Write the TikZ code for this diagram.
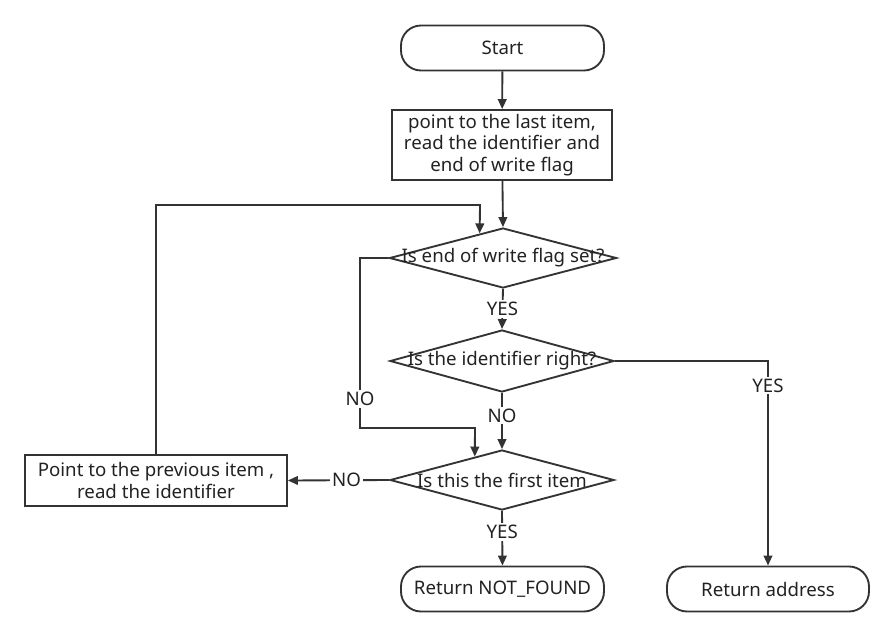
\documentclass[tikz,border=0pt]{standalone}
\usepackage{fontspec}
\setmainfont{Noto Sans}
\usetikzlibrary{shapes.geometric,arrows.meta,calc}
\definecolor{lc}{HTML}{333333}
\definecolor{tc}{HTML}{222222}
\begin{document}
\begin{tikzpicture}[x=0.75pt,y=-0.75pt,
  base/.style={draw=lc, line width=1.4pt, font=\fontsize{14}{16.2}\selectfont, text=tc, inner sep=0pt, align=center},
  term/.style={base, rounded corners=15pt, minimum width=152.25pt, minimum height=33.75pt},
  proc/.style={base, rectangle},
  dia/.style={base, diamond, minimum width=169pt, minimum height=45pt},
  txt/.style={font=\fontsize{14}{16.2}\selectfont, text=tc, inner sep=0pt},
  lbl/.style={font=\fontsize{14}{16.2}\selectfont, text=tc, fill=white, inner sep=1.5pt},
  arr/.style={draw=lc, line width=1.4pt, -{Triangle[length=7.5pt,width=6.5pt]}},
  ln/.style={draw=lc, line width=1.4pt}]
\useasboundingbox (0,0) rectangle (894,640);
\node[term] (start) at (502.5,48) {Start};
\node[proc, minimum width=165pt, minimum height=52.5pt] (b1) at (502,145) {point to the last item,\\ read the identifier and\\ end of write flag};
\node[dia, minimum width=170.25pt] (d1) at (503,258) {};
\node[txt] (t1) at (d1) {Is end of write flag set?};
\node[dia, minimum width=168pt, minimum height=46.5pt] (d2) at (502,361) {};
\node[txt] (t2) at (d2) {Is the identifier right?};
\node[dia, minimum width=168pt] (d3) at (502,480) {};
\node[txt] (t3) at (d3) {Is this the first item};
\node[term] (nf) at (502.5,589) {Return NOT\_FOUND};
\node[term, minimum width=151.5pt] (ra) at (768,589) {Return address};
\node[proc, minimum width=196.5pt, minimum height=38.25pt, font=\fontsize{14}{17}\selectfont] (lb) at (156,480.5) {Point to the previous item ,\\ read the identifier};
\coordinate (c1) at (360,258);
\coordinate (c2) at (360,428);
\coordinate (c3) at (475,428);
\coordinate (e3) at ($(d3.north)!0.241!(d3.west)$);
\coordinate (c4) at (156,205);
\coordinate (c5) at (480,205);
\coordinate (e1) at ($(d1.north)!0.204!(d1.west)$);
\draw[arr] (start) -- (b1);
\draw[arr] (b1) -- (d1.north);
\draw[arr] (d1.south) -- node[lbl]{YES} (d2.north);
\draw[arr] (d2.south) -- node[lbl, pos=0.4]{NO} (d3.north);
\draw[arr] (d3.south) -- node[lbl, pos=0.38]{YES} (nf.north);
\draw[arr] (d2.east) -| node[lbl, pos=0.56]{YES} (ra.north);
\draw[arr] (d1.west) -- (c1) -- node[lbl, pos=0.83]{NO} (c2) -- (c3) -- (e3);
\draw[arr] (d3.west) -- node[lbl, pos=0.42]{NO} (lb.east);
\draw[arr] (lb.north) -- (c4) -- (c5) -- (e1);
\end{tikzpicture}
\end{document}
